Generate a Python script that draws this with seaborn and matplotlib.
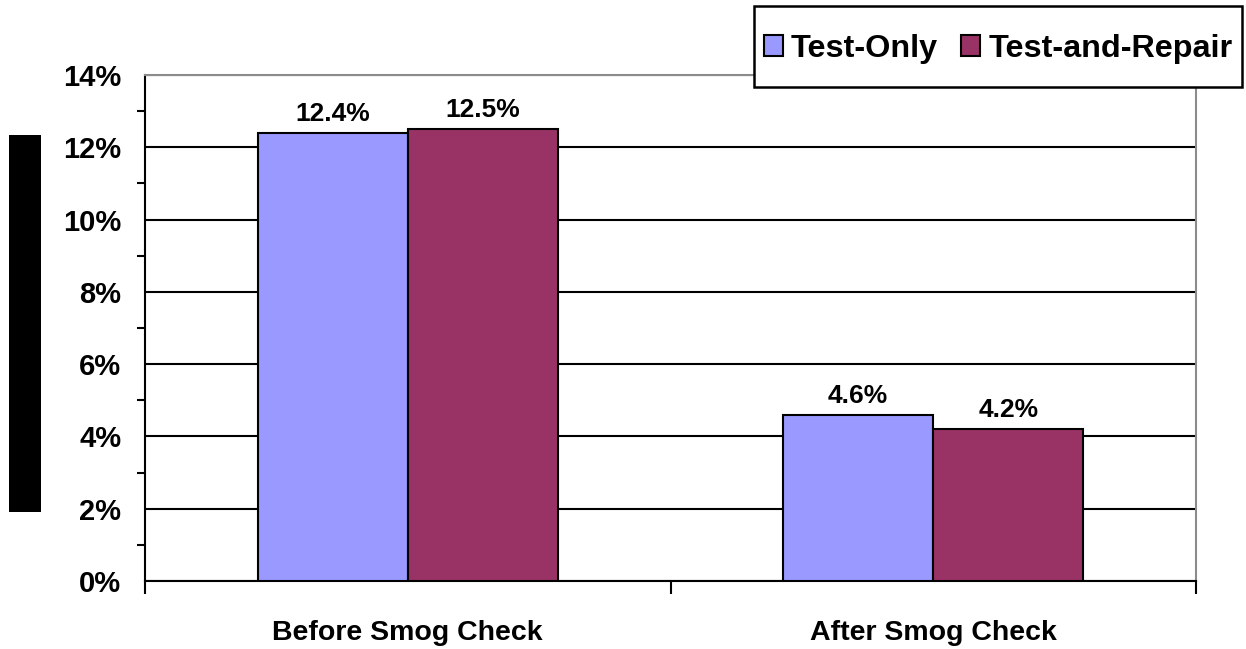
import pandas as pd
import matplotlib
matplotlib.use("Agg")
import matplotlib.pyplot as plt
from matplotlib.patches import Rectangle
from matplotlib.ticker import FuncFormatter, MultipleLocator, FixedLocator
import seaborn as sns

# data
categories = ["Before Smog Check", "After Smog Check"]
series = ["Test-Only", "Test-and-Repair"]
test_only = [12.4, 4.6]
test_and_repair = [12.5, 4.2]
colors = ["#9999FF", "#993366"]

df = pd.DataFrame({
    "Stage": categories * 2,
    "Program": [series[0]] * 2 + [series[1]] * 2,
    "Value": test_only + test_and_repair,
})

sns.set_style("white")
plt.rcParams["font.family"] = ["Liberation Sans", "DejaVu Sans"]
plt.rcParams["font.weight"] = "bold"
plt.rcParams["text.color"] = "black"
plt.rcParams["xtick.color"] = "black"
plt.rcParams["ytick.color"] = "black"
plt.rcParams["axes.labelcolor"] = "black"

fig = plt.figure(figsize=(12.46, 6.49), dpi=100)
ax = fig.add_axes([145 / 1246, 1 - 581 / 649, (1196 - 145) / 1246, (581 - 75) / 649])

sns.barplot(data=df, x="Stage", y="Value", hue="Program", order=categories,
            hue_order=series, palette=colors, width=0.571, gap=0,
            edgecolor="black", linewidth=1.5, saturation=1, ax=ax, legend=True,
            zorder=3)

ax.set_xlim(-0.5, 1.5)
ax.set_ylim(0, 14)
ax.yaxis.set_major_locator(MultipleLocator(2))
ax.yaxis.set_minor_locator(MultipleLocator(1))
ax.yaxis.set_major_formatter(FuncFormatter(lambda v, p: f"{v:.0f}%"))
ax.grid(axis="y", which="major", color="black", linewidth=1.5, zorder=0)
ax.set_axisbelow(True)

ax.tick_params(axis="y", which="major", direction="out", length=8, width=1.5,
               color="black", labelsize=21, pad=9, labelcolor="black")
ax.tick_params(axis="y", which="minor", direction="out", length=6, width=1.5,
               color="black", left=True)
ax.xaxis.set_minor_locator(FixedLocator([-0.5, 0.5, 1.5]))
ax.tick_params(axis="x", which="major", length=0, labelsize=20.5, pad=28,
               labelcolor="black")
ax.tick_params(axis="x", which="minor", direction="out", length=9, width=1.5,
               color="black", bottom=True)
for lbl in ax.get_xticklabels() + ax.get_yticklabels():
    lbl.set_fontweight("bold")

ax.set_xlabel("")
ax.set_ylabel("")

for side in ["left", "bottom"]:
    ax.spines[side].set_color("black")
    ax.spines[side].set_linewidth(1.5)
for side in ["top", "right"]:
    ax.spines[side].set_color("#8c8c8c")
    ax.spines[side].set_linewidth(1.5)

for cont in ax.containers:
    ax.bar_label(cont, labels=[f"{v:.1f}%" for v in cont.datavalues],
                 padding=5, fontsize=19, fontweight="bold", color="black")

# legend box drawn as a figure rectangle, entries centred inside it
box_l, box_r, box_t, box_b = 754, 1242, 6, 87
fig.patches.append(Rectangle((box_l / 1246, 1 - box_b / 649),
                             (box_r - box_l) / 1246, (box_b - box_t) / 649,
                             transform=fig.transFigure, facecolor="white",
                             edgecolor="black", linewidth=1.8, zorder=5))

handles, labels = ax.get_legend_handles_labels()
ax.get_legend().remove()
leg = fig.legend(handles, labels, loc="center",
                 bbox_to_anchor=((box_l + box_r) / 2 / 1246, 1 - 49 / 649),
                 ncol=2, frameon=False,
                 prop={"weight": "bold", "size": 23.3},
                 handlelength=0.6, handleheight=0.6, handletextpad=0.25,
                 columnspacing=0.7, borderpad=0, borderaxespad=0)
leg.set_zorder(6)
for t in leg.get_texts():
    t.set_color("black")
for h in leg.legend_handles:
    h.set_edgecolor("black")
    h.set_linewidth(1.5)

# black block left of the y axis
fig.patches.append(Rectangle((9 / 1246, 1 - 512 / 649), 32 / 1246, 377 / 649,
                             transform=fig.transFigure, facecolor="black",
                             edgecolor="none"))

fig.savefig("out.png", dpi=100)
